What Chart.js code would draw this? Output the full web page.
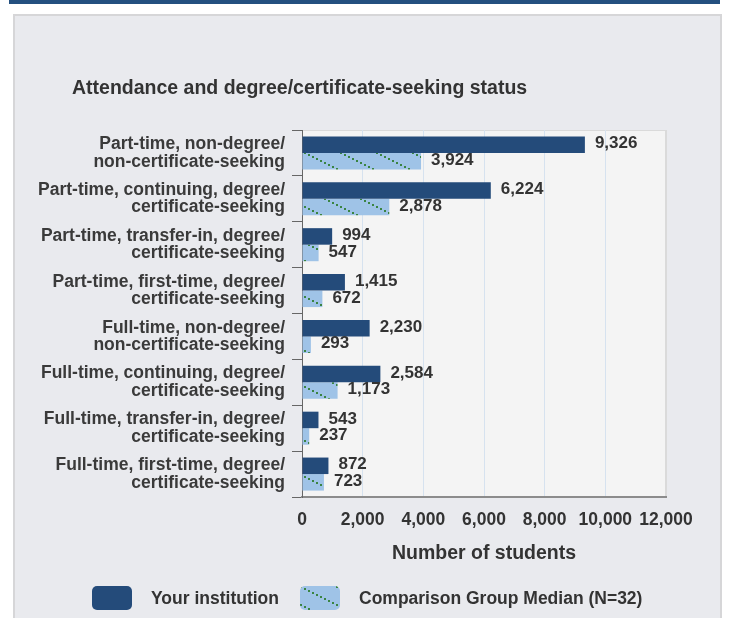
<!DOCTYPE html>
<html>
<head>
<meta charset="utf-8">
<script src="https://cdn.jsdelivr.net/npm/chart.js@4.4.1/dist/chart.umd.min.js"></script>
<style>
  body { margin: 0; background: #fff; width: 729px; height: 618px; overflow: hidden; position: relative;
         font-family: "Liberation Sans", Arial, sans-serif; }
  #topbar { position: absolute; left: 9px; top: 0; width: 711px; height: 4px; background: #24507f; }
  #panel { position: absolute; left: 13px; top: 14px; width: 705px; height: 620px; background: #e9eaee;
           border: 2px solid #d6d6d8; }
  #chart { position: absolute; left: 0; top: 0; }
  #legend { position: absolute; left: 92px; top: 586px; display: flex; align-items: center;
            font-weight: bold; font-size: 17.5px; color: #333; }
  #legend .box { width: 40px; height: 24px; border-radius: 5px; margin-right: 19px; }
  #legend .item { display: flex; align-items: center; margin-right: 21px; }
</style>
</head>
<body>
<div id="topbar"></div>
<div id="panel"></div>
<canvas id="chart" width="729" height="618"></canvas>
<div id="legend"></div>

<script>
const categories = [
  ['Part-time, non-degree/', 'non-certificate-seeking'],
  ['Part-time, continuing, degree/', 'certificate-seeking'],
  ['Part-time, transfer-in, degree/', 'certificate-seeking'],
  ['Part-time, first-time, degree/', 'certificate-seeking'],
  ['Full-time, non-degree/', 'non-certificate-seeking'],
  ['Full-time, continuing, degree/', 'certificate-seeking'],
  ['Full-time, transfer-in, degree/', 'certificate-seeking'],
  ['Full-time, first-time, degree/', 'certificate-seeking']
];
const yourInstitution = [9326, 6224, 994, 1415, 2230, 2584, 543, 872];
const comparisonMedian = [3924, 2878, 547, 672, 293, 1173, 237, 723];
const seriesNames = ['Your institution', 'Comparison Group Median (N=32)'];
const chartTitle = 'Attendance and degree/certificate-seeking status';
const axisTitle = 'Number of students';

const FONT = '"Liberation Sans", Arial, sans-serif';
Chart.defaults.font.family = FONT;
Chart.defaults.color = '#333';

const darkBlue = '#244b7a';

// 斜めの点線パターン（比較グループ用）
function makePatternCanvas() {
  const c = document.createElement('canvas');
  c.width = 36; c.height = 18;
  const g = c.getContext('2d');
  g.fillStyle = '#9fc3e7';
  g.fillRect(0, 0, 36, 18);
  g.fillStyle = '#3a8442';
  for (let x = 0; x < 36; x += 4) {
    g.fillRect(x, Math.round(x / 2), 2, 2);
  }
  return c;
}
const patternCanvas = makePatternCanvas();
const ctx = document.getElementById('chart').getContext('2d');
const pattern = ctx.createPattern(patternCanvas, 'repeat');

const plotBg = {
  id: 'plotBg',
  beforeDraw(chart) {
    const { ctx, chartArea: a } = chart;
    ctx.save();
    ctx.fillStyle = '#f4f4f4';
    ctx.fillRect(a.left, a.top, a.width, a.height);
    ctx.strokeStyle = '#dadada';
    ctx.lineWidth = 1;
    ctx.strokeRect(a.left + 0.5, a.top + 0.5, a.width - 1, a.height);
    ctx.restore();
  }
};

const titleText = {
  id: 'titleText',
  afterDraw(chart) {
    const c = chart.ctx;
    c.save();
    c.font = 'bold 19.5px ' + FONT;
    c.fillStyle = '#333';
    c.textAlign = 'left';
    c.textBaseline = 'middle';
    c.fillText(chartTitle, 72, 89);
    c.restore();
  }
};

const valueLabels = {
  id: 'valueLabels',
  afterDatasetsDraw(chart) {
    const c = chart.ctx;
    c.save();
    c.font = 'bold 17px ' + FONT;
    c.fillStyle = '#333';
    c.textAlign = 'left';
    c.textBaseline = 'middle';
    chart.data.datasets.forEach((ds, i) => {
      chart.getDatasetMeta(i).data.forEach((bar, j) => {
        c.fillText(ds.data[j].toLocaleString('en-US'), bar.x + 10, bar.y - 1);
      });
    });
    c.restore();
  }
};

new Chart(ctx, {
  type: 'bar',
  data: {
    labels: categories,
    datasets: [
      { label: seriesNames[0], data: yourInstitution, backgroundColor: darkBlue,
        categoryPercentage: 0.72, barPercentage: 1.0 },
      { label: seriesNames[1], data: comparisonMedian, backgroundColor: pattern,
        categoryPercentage: 0.72, barPercentage: 1.0 }
    ]
  },
  options: {
    indexAxis: 'y',
    responsive: false,
    animation: false,
    layout: { padding: { top: 130, right: 63, bottom: 53, left: 0 } },
    plugins: {
      legend: { display: false },
      title: { display: false },
      tooltip: { enabled: false }
    },
    scales: {
      x: {
        min: 0,
        max: 12000,
        afterFit(scale) { scale.height = 68; },
        ticks: {
          stepSize: 2000,
          padding: 13,
          font: { size: 17.5, weight: 'bold' },
          color: '#333',
          callback: v => v.toLocaleString('en-US')
        },
        grid: {
          drawTicks: false,
          color: c => (c.tick && c.tick.value === 12000) ? '#dadada' : '#d6e2ef'
        },
        border: { color: '#8c8c8c', width: 2 },
        title: {
          display: true,
          text: axisTitle,
          font: { size: 19.5, weight: 'bold' },
          color: '#333',
          padding: { top: 0, bottom: 0 }
        }
      },
      y: {
        afterFit(scale) { scale.width = 302; },
        ticks: {
          padding: 7,
          font: { size: 17.5, weight: 'bold', lineHeight: '17.5px' },
          color: '#3a3a3a'
        },
        grid: { drawOnChartArea: false, color: '#666', tickLength: 10 },
        border: { color: '#666', width: 1 }
      }
    }
  },
  plugins: [plotBg, titleText, valueLabels]
});

// 凡例（HTML）
const legend = document.getElementById('legend');
const swatches = [darkBlue, 'url(' + patternCanvas.toDataURL() + ')'];
seriesNames.forEach((name, i) => {
  const item = document.createElement('div');
  item.className = 'item';
  const box = document.createElement('div');
  box.className = 'box';
  box.style.background = swatches[i];
  const label = document.createElement('span');
  label.textContent = name;
  item.appendChild(box);
  item.appendChild(label);
  legend.appendChild(item);
});
</script>
</body>
</html>
